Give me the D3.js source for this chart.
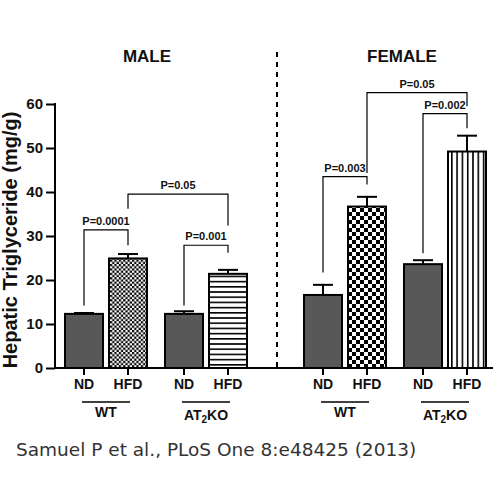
<!DOCTYPE html>
<html><head><meta charset="utf-8">
<script src="https://cdn.jsdelivr.net/npm/d3@7"></script>
<style>body{margin:0;background:#fff}svg{display:block}</style>
</head><body>
<script>
// ---- data ----
const sexes = ["MALE", "FEMALE"];
const genotypes = ["WT", "AT2KO"];
const diets = ["ND", "HFD"];
const maleMeans = [12.3, 24.9, 12.3, 21.4];
const maleSEM = [0.2, 1.0, 0.6, 0.9];
const femaleMeans = [16.6, 36.7, 23.6, 49.2];
const femaleSEM = [2.3, 2.2, 0.9, 3.6];
const yTicks = [0, 10, 20, 30, 40, 50, 60];
// brackets: [sex, fromBar, toBar, level, legFromEnd, legToEnd, label]
const brackets = [
  ["MALE", 0, 1, 31.4, 14.2, 27.9, "P=0.0001"],
  ["MALE", 1, 3, 39.5, 36.2, 32.4, "P=0.05"],
  ["MALE", 2, 3, 27.9, 14.2, 26.2, "P=0.001"],
  ["FEMALE", 0, 1, 43.5, 21.7, 41.7, "P=0.003"],
  ["FEMALE", 1, 3, 62.6, 44.3, 59.5, "P=0.05"],
  ["FEMALE", 2, 3, 57.8, 26.1, 54.5, "P=0.002"]
];
const citation = "Samuel P et al., PLoS One 8:e48425 (2013)";

const bars = [];
sexes.forEach(s => {
  const m = s === "MALE" ? maleMeans : femaleMeans;
  const e = s === "MALE" ? maleSEM : femaleSEM;
  genotypes.forEach((g, gi) => diets.forEach((d, di) => {
    const i = gi * 2 + di;
    bars.push({sex: s, geno: g, diet: d, idx: i, mean: m[i], sem: e[i]});
  }));
});

const W = 500, H = 500;
const svg = d3.select("body").append("svg").attr("width", W).attr("height", H);
const defs = svg.append("defs");

// patterns
function checker(id, c) {
  const p = defs.append("pattern").attr("id", id).attr("patternUnits", "userSpaceOnUse")
    .attr("width", 2 * c).attr("height", 2 * c);
  p.append("rect").attr("width", 2 * c).attr("height", 2 * c).attr("fill", "#fff");
  p.append("rect").attr("width", c).attr("height", c).attr("fill", "#000");
  p.append("rect").attr("x", c).attr("y", c).attr("width", c).attr("height", c).attr("fill", "#000");
}
checker("chkFine", 2.2);
checker("chkCoarse", 4);
const ph = defs.append("pattern").attr("id", "hlines").attr("patternUnits", "userSpaceOnUse")
  .attr("width", 10).attr("height", 5.2);
ph.append("rect").attr("width", 10).attr("height", 5.2).attr("fill", "#fff");
ph.append("rect").attr("y", 0).attr("width", 10).attr("height", 1.6).attr("fill", "#000");
const pv = defs.append("pattern").attr("id", "vlines").attr("patternUnits", "userSpaceOnUse")
  .attr("width", 5.3).attr("height", 10).attr("x", 0.5);
pv.append("rect").attr("width", 5.3).attr("height", 10).attr("fill", "#fff");
pv.append("rect").attr("x", 0).attr("width", 1.6).attr("height", 10).attr("fill", "#000");

function fillFor(b) {
  if (b.diet === "ND") return "#585858";
  if (b.geno === "WT") return b.sex === "MALE" ? "url(#chkFine)" : "url(#chkCoarse)";
  return b.sex === "MALE" ? "url(#hlines)" : "url(#vlines)";
}

// scales
const y = d3.scaleLinear().domain([0, 60]).range([368, 104]);
const sexX = d3.scalePoint().domain(sexes).range([156, 395]);
const genoX = d3.scalePoint().domain(genotypes).range([-50, 50]);
const dietX = d3.scalePoint().domain(diets).range([-22, 22]);
const bw = 38;
const cx = b => sexX(b.sex) + genoX(b.geno) + dietX(b.diet);
const barAt = (s, i) => bars.find(b => b.sex === s && b.idx === i);

const bold = "'Liberation Sans', Arial, sans-serif";

// axes
const yAxis = svg.append("g").attr("transform", "translate(55,0)")
  .call(d3.axisLeft(y).tickValues(yTicks).tickSize(9).tickPadding(3));
yAxis.select(".domain").attr("stroke-width", 2).attr("d", "M0,368V103");
yAxis.selectAll(".tick line").attr("stroke-width", 2);
yAxis.selectAll(".tick text").attr("font-family", bold).attr("font-weight", "bold")
  .attr("font-size", 15).attr("fill", "#111");

svg.append("text").attr("transform", "translate(17,240) rotate(-90)")
  .attr("text-anchor", "middle").attr("font-family", bold).attr("font-weight", "bold")
  .attr("font-size", 20).attr("fill", "#111").text("Hepatic Triglyceride (mg/g)");

// x axis line
svg.append("line").attr("x1", 54).attr("x2", 493).attr("y1", 368).attr("y2", 368)
  .attr("stroke", "#000").attr("stroke-width", 2);

// dashed separator
svg.append("line").attr("x1", 277).attr("x2", 277).attr("y1", 52).attr("y2", 367)
  .attr("stroke", "#000").attr("stroke-width", 2).attr("stroke-dasharray", "5,5");

// sex titles
svg.selectAll(".sexT").data(sexes).enter().append("text")
  .attr("x", d => d === "MALE" ? 147 : 402).attr("y", 62).attr("text-anchor", "middle")
  .attr("font-family", bold).attr("font-weight", "bold").attr("font-size", 17)
  .attr("fill", "#111").text(d => d);

// bars
const bg = svg.append("g");
bg.selectAll("line.err").data(bars).enter().append("line")
  .attr("x1", cx).attr("x2", cx).attr("y1", d => y(d.mean)).attr("y2", d => y(d.mean + d.sem))
  .attr("stroke", "#000").attr("stroke-width", 2);
bg.selectAll("line.cap").data(bars).enter().append("line")
  .attr("x1", d => cx(d) - 10).attr("x2", d => cx(d) + 10)
  .attr("y1", d => y(d.mean + d.sem)).attr("y2", d => y(d.mean + d.sem))
  .attr("stroke", "#000").attr("stroke-width", 2);
bg.selectAll("rect").data(bars).enter().append("rect")
  .attr("x", d => cx(d) - bw / 2).attr("width", bw)
  .attr("y", d => y(d.mean)).attr("height", d => y(0) - y(d.mean))
  .attr("fill", fillFor).attr("stroke", "#000").attr("stroke-width", 2);

// x ticks and labels
svg.selectAll("line.xt").data(bars).enter().append("line")
  .attr("x1", cx).attr("x2", cx).attr("y1", 368).attr("y2", 375)
  .attr("stroke", "#000").attr("stroke-width", 2);
svg.selectAll("text.xl").data(bars).enter().append("text")
  .attr("x", cx).attr("y", 389).attr("text-anchor", "middle")
  .attr("font-family", bold).attr("font-weight", "bold").attr("font-size", 14)
  .attr("fill", "#111").text(d => d.diet);

// genotype group labels
const groups = [];
sexes.forEach(s => genotypes.forEach(g => groups.push({sex: s, geno: g})));
const gcx = d => sexX(d.sex) + genoX(d.geno);
svg.selectAll("line.gl").data(groups).enter().append("line")
  .attr("x1", d => gcx(d) - 24).attr("x2", d => gcx(d) + 24).attr("y1", 402).attr("y2", 402)
  .attr("stroke", "#000").attr("stroke-width", 1.5);
const gt = svg.selectAll("text.gt").data(groups).enter().append("text")
  .attr("x", gcx).attr("y", d => d.geno === "WT" ? 417 : 420).attr("text-anchor", "middle")
  .attr("font-family", bold).attr("font-weight", "bold").attr("font-size", 14).attr("fill", "#111");
gt.each(function(d) {
  const t = d3.select(this);
  if (d.geno === "WT") { t.text("WT"); return; }
  t.append("tspan").text("AT");
  t.append("tspan").attr("font-size", 10).attr("dy", 3).text("2");
  t.append("tspan").attr("dy", -3).text("KO");
});

// brackets
const bk = svg.append("g");
brackets.forEach(([s, a, b, lvl, ea, eb, lab]) => {
  const xa = cx(barAt(s, a)), xb = cx(barAt(s, b));
  bk.append("path")
    .attr("d", `M${xa},${y(ea)}V${y(lvl)}H${xb}V${y(eb)}`)
    .attr("fill", "none").attr("stroke", "#000").attr("stroke-width", 1.2);
  bk.append("text").attr("x", (xa + xb) / 2).attr("y", y(lvl) - 5).attr("text-anchor", "middle")
    .attr("font-family", bold).attr("font-weight", "bold").attr("font-size", 11)
    .attr("fill", "#111").text(lab);
});

// citation
svg.append("text").attr("x", 16).attr("y", 456)
  .attr("font-family", "'DejaVu Sans', sans-serif").attr("font-size", 18.5)
  .attr("fill", "#333").text(citation);
</script>
</body></html>
